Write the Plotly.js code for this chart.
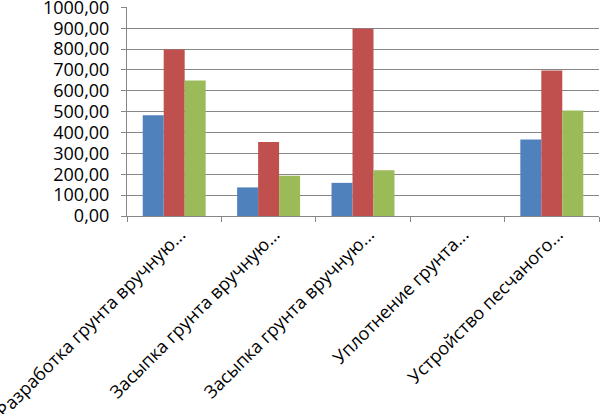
<!DOCTYPE html>
<html><head><meta charset="utf-8">
<script src="https://cdn.plot.ly/plotly-3.0.1.min.js"></script>
<style>html,body{margin:0;padding:0;background:#fff}#c{width:600px;height:414px}</style>
</head><body><div id="c"></div>
<script>
var categories = ["Разработка грунта вручную...", "Засыпка грунта вручную...", "Засыпка грунта вручную...", "Уплотнение грунта...", "Устройство песчаного..."];
var xKeys = ["c1", "c2", "c3", "c4", "c5"];
var series1 = [483, 137, 159, 0, 367];
var series2 = [798, 355, 898, 0, 697];
var series3 = [650, 193, 219, 0, 506];
var colors = ["#4F81BD", "#C0504D", "#9BBB59"];

var traces = [series1, series2, series3].map(function(v, i){
  return {type:"bar", x:xKeys, y:v, marker:{color:colors[i]}, showlegend:false, hoverinfo:"y"};
});
var layout = {
  width:600, height:414,
  margin:{l:127, r:1, t:7, b:198},
  separators:",.",
  barmode:"group", bargap:0.333, bargroupgap:0,
  font:{family:"Open Sans, sans-serif", size:18, color:"#000"},
  plot_bgcolor:"#fff", paper_bgcolor:"#fff",
  xaxis:{type:"category", tickvals:xKeys, ticktext:categories, tickangle:-45,
    showline:true, linecolor:"#868686", linewidth:1, ticks:"outside", tickson:"boundaries",
    ticklen:5, tickcolor:"#868686", showgrid:false, tickfont:{size:18}, ticklabeloverflow:"allow",
    ticklabelshift:6},
  yaxis:{range:[0,1002], tickvals:[0,100,200,300,400,500,600,700,800,900,1000], tickformat:".2f", showline:true, linecolor:"#868686",
    ticks:"outside", ticklen:5, tickcolor:"#868686", gridcolor:"#868686", gridwidth:1,
    zeroline:false, tickfont:{size:18}, ticklabelstandoff:8, ticklabeloverflow:"allow"}
};
Plotly.newPlot("c", traces, layout, {displayModeBar:false});
</script></body></html>
